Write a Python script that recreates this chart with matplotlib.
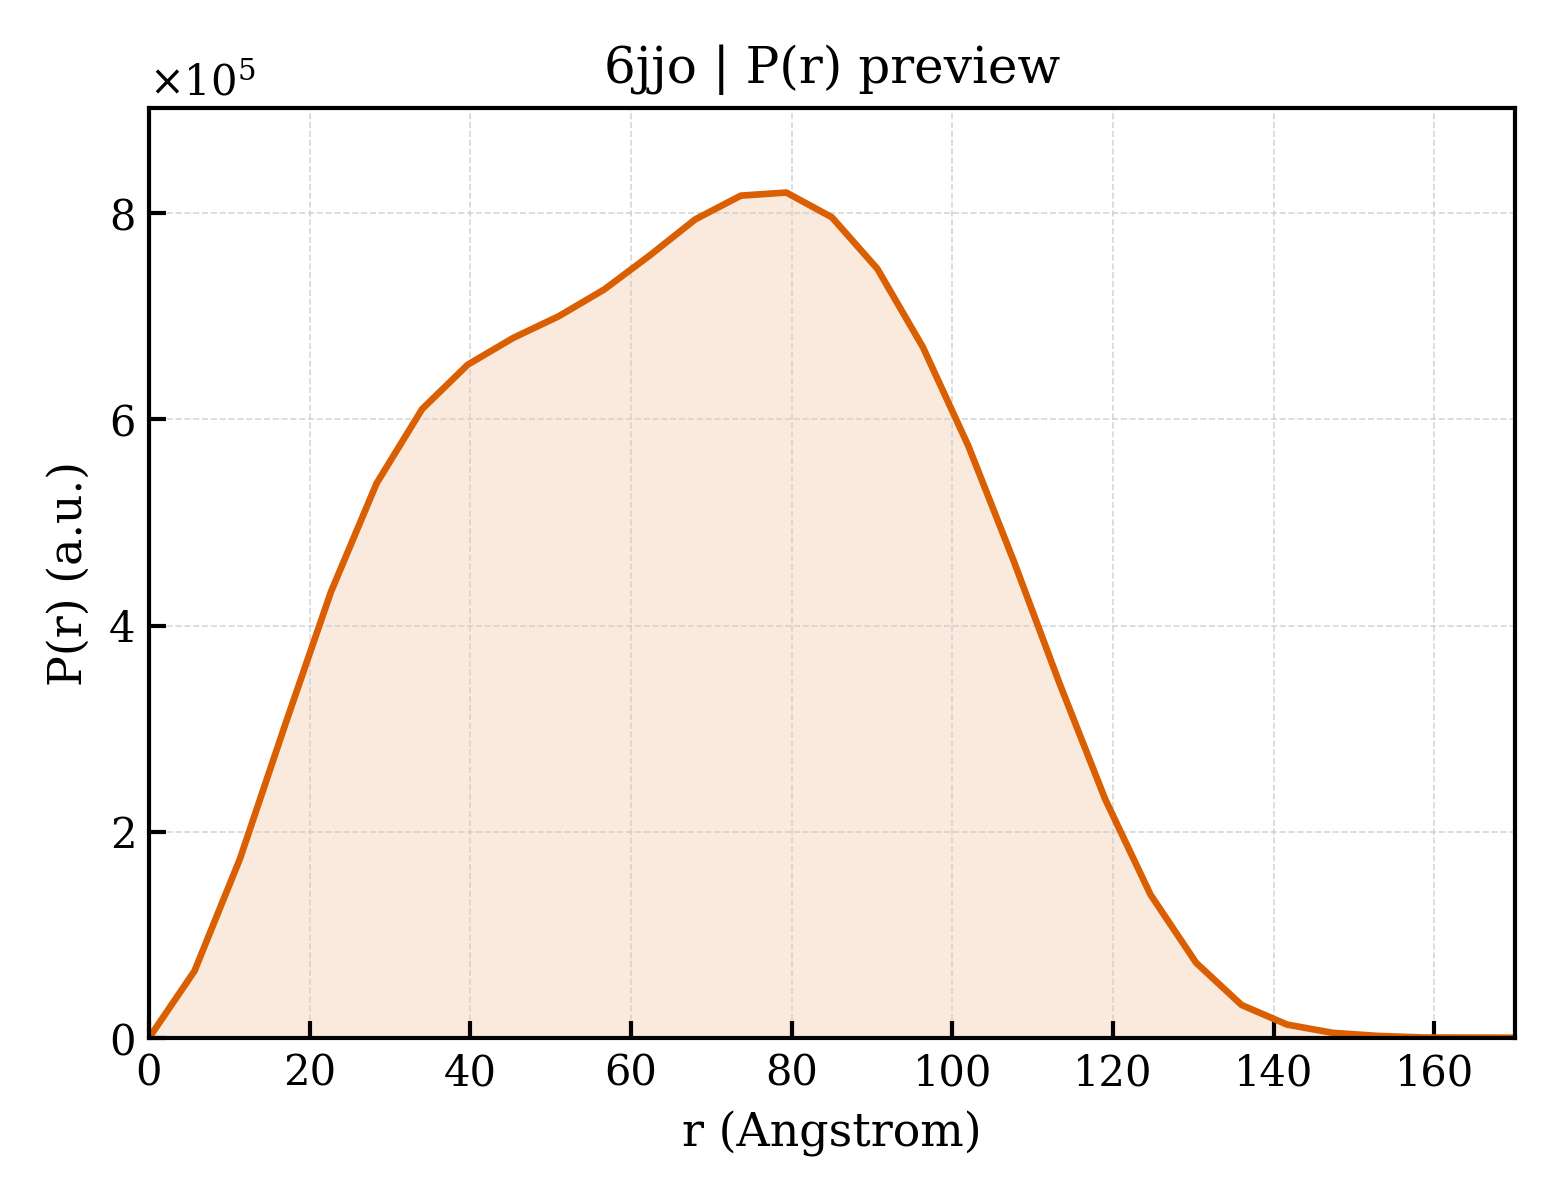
import matplotlib
matplotlib.use('Agg')
import matplotlib.pyplot as plt
import numpy as np

plt.rcParams['font.family'] = 'DejaVu Serif'
plt.rcParams['mathtext.fontset'] = 'dejavuserif'

r = np.linspace(0, 170, 31)
pr = [0.0, 0.65, 1.74, 3.05, 4.33, 5.38, 6.10, 6.53, 6.79, 7.00, 7.26, 7.59,
      7.94, 8.17, 8.20, 7.96, 7.46, 6.70, 5.74, 4.62, 3.44, 2.32, 1.39, 0.73,
      0.32, 0.13, 0.05, 0.02, 0.005, 0.004, 0.003]
pr = np.array(pr) * 1e5

color = '#D95F02'

fig, ax = plt.subplots(figsize=(5.2, 4), dpi=300)
ax.fill_between(r, pr, color=color, alpha=0.13, linewidth=0)
ax.plot(r, pr, color=color, linewidth=1.6)

ax.set_xlim(0, 170)
ax.set_ylim(0, pr.max() * 1.1)
ax.set_xlabel('r (Angstrom)', fontsize=11)
ax.set_ylabel('P(r) (a.u.)', fontsize=11)
ax.set_title('6jjo | P(r) preview', fontsize=12)
ax.ticklabel_format(axis='y', style='sci', scilimits=(0, 0), useMathText=True)
ax.tick_params(direction='in', labelsize=10, width=1, length=4)
ax.grid(True, linestyle='--', linewidth=0.4, color='#cccccc', alpha=0.8)
for s in ax.spines.values():
    s.set_linewidth(1.0)

fig.subplots_adjust(left=0.0955, right=0.971, top=0.91, bottom=0.135)
fig.savefig('out.png', dpi=300)
